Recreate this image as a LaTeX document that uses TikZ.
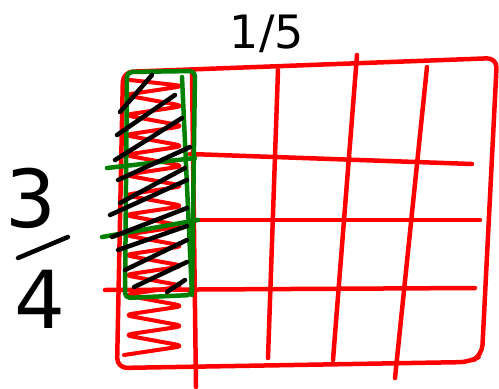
\documentclass[tikz,border=0pt]{standalone}
\usepackage{fontspec}
\setmainfont{DejaVu Sans}
\usetikzlibrary{calc}

\begin{document}
\begin{tikzpicture}[x=1pt,y=-1pt,
  redpen/.style={draw=red, line width=4.5pt, line cap=round, line join=round},
  greenpen/.style={draw=green!50!black, line width=4.5pt, line cap=round, line join=round},
  blackpen/.style={draw=black, line width=4.5pt, line cap=round},
  hand/.style={inner sep=0pt, anchor=base, font=\fontsize{80}{80}\selectfont},
  smallhand/.style={inner sep=0pt, font=\fontsize{46}{46}\selectfont}
]
\useasboundingbox (0,0) rectangle (499,389);
% Outer frame of the whole, drawn first.
\draw[redpen, rounded corners=10pt]
  (123,72) -- (497,58) -- (482,355) -- (470,362) -- (117,368) -- cycle;
% Columns (fifths).
\draw[redpen] (192,72) -- (196,387);
\draw[redpen] (278,70) -- (268,358);
\draw[redpen] (357,55) -- (333,360);
\draw[redpen] (427,67) -- (395,378);
% Rows (quarters).
\draw[redpen] (190,154) -- (472,164);
\draw[redpen] (197,220) -- (480,220);
\draw[redpen] (105,290) -- (475,288);
% Red scribble over the first fifth.
\draw[redpen, line width=4pt, rounded corners=8pt]
  (130,80) \foreach \i in {0,...,13} {
    -- (184,{86+20*\i}) -- (124,{95+20*\i})
  };
% Green frame round three quarters of it.
\draw[greenpen, rounded corners=5pt]
  (127,72) -- (195,71) -- (192,295) -- (125,298) -- cycle;
\draw[greenpen] (182,77) -- (192,295);
\draw[greenpen] (107,168) -- (195,158);
\draw[greenpen] (102,237) -- (198,220);
% Black hatching of the overlap.
\foreach \a/\b/\c/\d in {120/112/152/75, 117/135/175/95, 115/160/182/118,
    118/180/190/147, 120/203/185/168, 110/215/187/180, 112/237/187/208,
    118/250/187/226, 125/270/187/240, 134/287/187/262, 167/292/185/280}
  \draw[blackpen] (\a,\b) -- (\c,\d);
% Labels.
\node[smallhand] (fifth) at (267,34) {1/5};
\node[hand] (three) at (31,227) {3};
\node[hand] (four) at (40,328) {4};
% the slanted fraction bar between them
\draw[blackpen] (18,258) -- (68,237);
\end{tikzpicture}
\end{document}
